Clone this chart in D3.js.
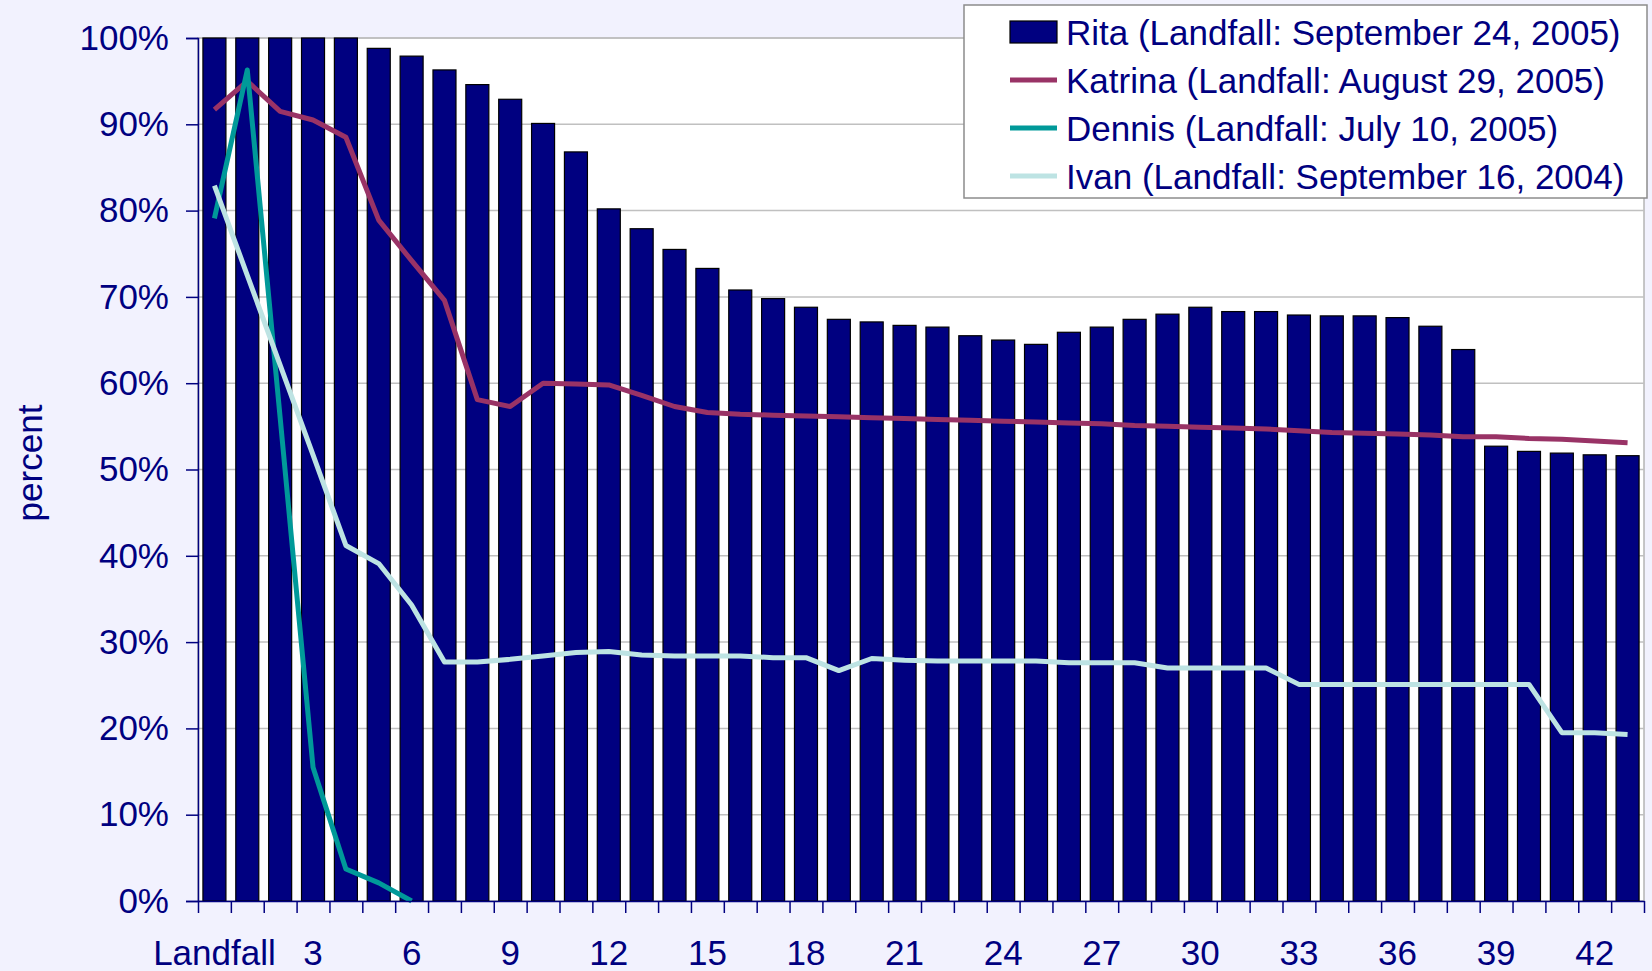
<!DOCTYPE html>
<html lang="en">
  <head>
    <meta charset="UTF-8" />
    <title>hurricane landfall percent</title>
    <script src="https://d3js.org/d3.v7.min.js"></script>
    <style>
      body {
        margin: 0;
        background: #f2f2fe;
      }
      svg {
        display: block;
        font-family: "Liberation Sans", Arial, sans-serif;
      }
      .axis text {
        fill: #000080;
        font-size: 35px;
      }
      .axis path,
      .axis line {
        stroke: #000080;
        stroke-width: 1.5;
      }
      .grid line {
        stroke: #c0c0c0;
        stroke-width: 1.5;
      }
      .bar {
        fill: #000080;
        stroke: #000;
        stroke-width: 1.2;
      }
      .series {
        fill: none;
        stroke-width: 5;
        stroke-linejoin: round;
      }
      .legend text {
        fill: #000080;
        font-size: 35px;
      }
    </style>
  </head>
  <body>
    <svg width="1652" height="971"></svg>

    <script>
      // days after landfall, 0 = landfall
      const days = d3.range(0, 44);
      const tickDays = d3.range(0, 44, 3);

      const rita = [
        100, 100, 100, 100, 100, 98.8, 97.9, 96.3, 94.6, 92.9, 90.1, 86.8, 80.2,
        77.9, 75.5, 73.3, 70.8, 69.8, 68.8, 67.4, 67.1, 66.7, 66.5, 65.5, 65.0,
        64.5, 65.9, 66.5, 67.4, 68.0, 68.8, 68.3, 68.3, 67.9, 67.8, 67.8, 67.6,
        66.6, 63.9, 52.7, 52.1, 51.9, 51.7, 51.6,
      ];
      const katrina = [
        91.7, 95.0, 91.5, 90.5, 88.5, 78.9, 74.2, 69.6, 58.1, 57.3, 60.0, 59.9,
        59.8, 58.6, 57.3, 56.6, 56.4, 56.3, 56.2, 56.1, 56.0, 55.9, 55.8, 55.7,
        55.6, 55.5, 55.4, 55.3, 55.1, 55.0, 54.9, 54.8, 54.7, 54.5, 54.3, 54.2,
        54.1, 54.0, 53.8, 53.8, 53.6, 53.5, 53.3, 53.1,
      ];
      const dennis = [79.1, 96.3, 56.0, 15.5, 3.7, 2.1, 0];
      const ivan = [
        82.9, 72.5, 62.1, 51.7, 41.2, 39.1, 34.3, 27.7, 27.7, 28.0, 28.4, 28.8,
        28.9, 28.5, 28.4, 28.4, 28.4, 28.2, 28.2, 26.7, 28.1, 27.9, 27.8, 27.8,
        27.8, 27.8, 27.6, 27.6, 27.6, 27.0, 27.0, 27.0, 27.0, 25.1, 25.1, 25.1,
        25.1, 25.1, 25.1, 25.1, 25.1, 19.5, 19.5, 19.3,
      ];
      const yTicks = d3.range(0, 101, 10);

      const legendItems = [
        { label: "Rita (Landfall: September 24, 2005)", type: "bar", color: "#000080" },
        { label: "Katrina (Landfall: August 29, 2005)", type: "line", color: "#993366" },
        { label: "Dennis (Landfall: July 10, 2005)", type: "line", color: "#009999" },
        { label: "Ivan (Landfall: September 16, 2004)", type: "line", color: "#bde3e3" },
      ];

      const width = 1652;
      const height = 971;
      const margin = { top: 38, right: 8, bottom: 70, left: 198 };
      const svg = d3.select("svg");

      const xScale = d3
        .scaleBand()
        .domain(days)
        .range([margin.left, width - margin.right])
        .paddingInner(0.3)
        .paddingOuter(0.15);
      const xEdges = d3
        .scaleLinear()
        .domain([0, days.length])
        .range([margin.left, width - margin.right]);
      const yScale = d3
        .scaleLinear()
        .domain([0, 100])
        .range([height - margin.bottom, margin.top]);

      // plot area
      svg
        .append("rect")
        .attr("x", margin.left)
        .attr("y", margin.top)
        .attr("width", width - margin.right - margin.left)
        .attr("height", height - margin.bottom - margin.top)
        .attr("fill", "#fff")
        .attr("stroke", "#b4b4b4")
        .attr("stroke-width", 1.5);

      svg
        .append("g")
        .attr("class", "grid")
        .selectAll("line")
        .data(yTicks)
        .enter()
        .append("line")
        .attr("x1", margin.left)
        .attr("x2", width - margin.right)
        .attr("y1", function (d) {
          return yScale(d);
        })
        .attr("y2", function (d) {
          return yScale(d);
        });

      svg
        .selectAll(".bar")
        .data(rita)
        .enter()
        .append("rect")
        .attr("class", "bar")
        .attr("x", function (d, i) {
          return xScale(i);
        })
        .attr("width", xScale.bandwidth())
        .attr("y", function (d) {
          return yScale(d);
        })
        .attr("height", function (d) {
          return yScale(0) - yScale(d);
        });

      const line = d3
        .line()
        .x(function (d, i) {
          return xScale(i) + xScale.bandwidth() / 2;
        })
        .y(function (d) {
          return yScale(d);
        });

      [katrina, dennis, ivan].forEach(function (values, k) {
        svg
          .append("path")
          .attr("class", "series")
          .attr("stroke", legendItems[k + 1].color)
          .attr("d", line(values));
      });

      // axes
      svg
        .append("g")
        .attr("class", "axis")
        .attr("transform", "translate(" + margin.left + ",0)")
        .call(
          d3
            .axisLeft(yScale)
            .tickValues(yTicks)
            .tickSize(12)
            .tickPadding(17)
            .tickFormat(function (d) {
              return d + "%";
            })
        );

      svg
        .append("g")
        .attr("class", "axis")
        .attr("transform", "translate(0," + yScale(0) + ")")
        .call(
          d3
            .axisBottom(xEdges)
            .tickValues(d3.range(0, days.length + 1))
            .tickSize(12)
            .tickSizeOuter(0)
            .tickFormat("")
        );

      svg
        .append("g")
        .attr("class", "axis")
        .attr("transform", "translate(0," + yScale(0) + ")")
        .call(
          d3
            .axisBottom(xScale)
            .tickValues(tickDays)
            .tickSize(0)
            .tickPadding(39)
            .tickFormat(function (d) {
              return d === 0 ? "Landfall" : d;
            })
        )
        .call(function (g) {
          g.select(".domain").remove();
        });

      svg
        .append("text")
        .attr("transform", "translate(29,463) rotate(-90)")
        .attr("text-anchor", "middle")
        .attr("dominant-baseline", "central")
        .attr("fill", "#000080")
        .attr("font-size", 35)
        .text("percent");

      // legend
      const legend = svg
        .append("g")
        .attr("class", "legend")
        .attr("transform", "translate(964,5)");
      legend
        .append("rect")
        .attr("width", 683)
        .attr("height", 193)
        .attr("fill", "#fff")
        .attr("stroke", "#8c8c8c")
        .attr("stroke-width", 1.5);

      const rows = legend
        .selectAll(".row")
        .data(legendItems)
        .enter()
        .append("g")
        .attr("class", "row")
        .attr("transform", function (d, i) {
          return "translate(0," + (27 + i * 48) + ")";
        });

      rows
        .filter(function (d) {
          return d.type === "bar";
        })
        .append("rect")
        .attr("x", 46)
        .attr("y", -11)
        .attr("width", 47)
        .attr("height", 22)
        .attr("fill", function (d) {
          return d.color;
        })
        .attr("stroke", "#000")
        .attr("stroke-width", 1.2);

      rows
        .filter(function (d) {
          return d.type === "line";
        })
        .append("line")
        .attr("x1", 46)
        .attr("x2", 93)
        .attr("stroke", function (d) {
          return d.color;
        })
        .attr("stroke-width", 5);

      rows
        .append("text")
        .attr("x", 102)
        .attr("dominant-baseline", "central")
        .text(function (d) {
          return d.label;
        });
    </script>
  </body>
</html>
